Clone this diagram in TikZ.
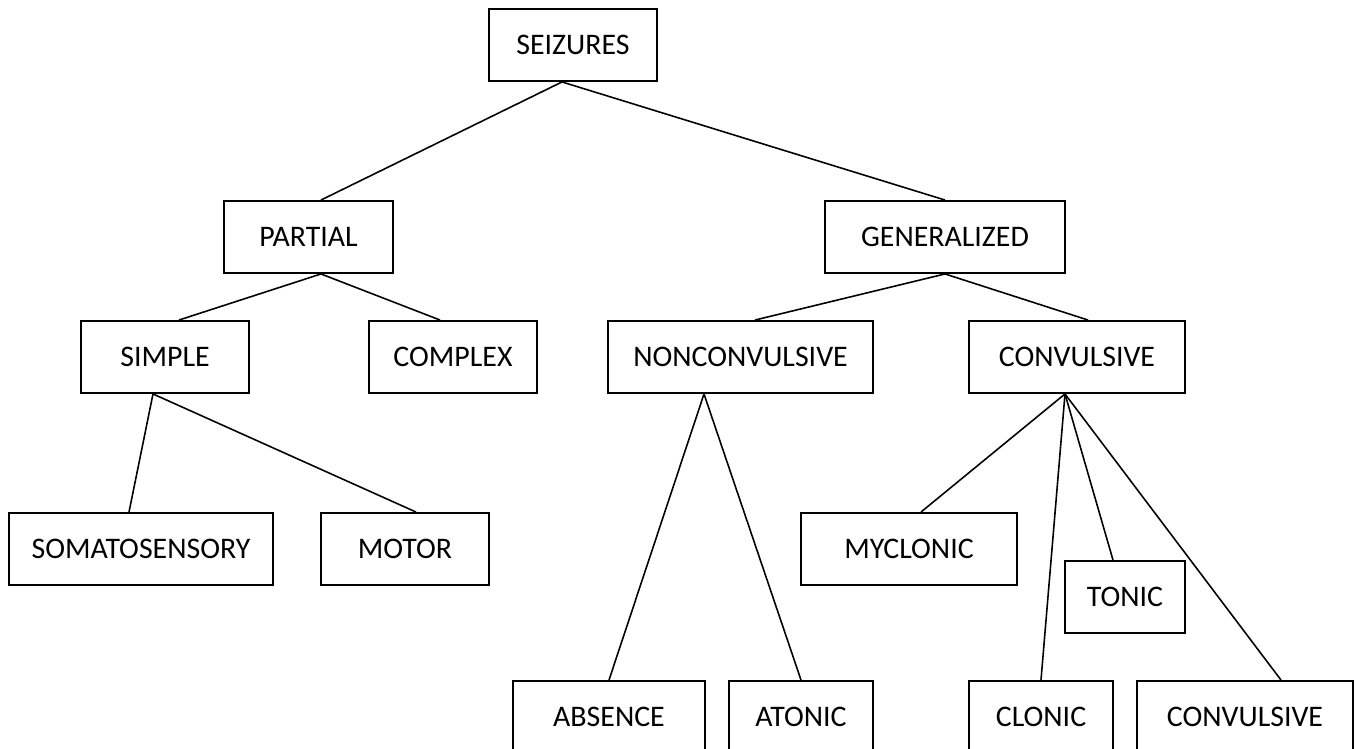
\documentclass[tikz,border=0pt]{standalone}
\usepackage{fontspec}
\setmainfont{Carlito}
\usepackage{tikz}
\usetikzlibrary{calc}

\begin{document}
\begin{tikzpicture}[x=0.02cm,y=-0.02cm,
		box/.style={draw,line width=1.1pt,minimum height=1.44cm,inner sep=0pt,
			font=\fontsize{17}{20}\selectfont},
		link/.style={line width=0.9pt}]
		\useasboundingbox (0,0) rectangle (1357,749);
		\clip (0,0) rectangle (1357,749);
		% top levels
		\node[box,minimum width=3.36cm] (seiz) at (573,45) {SEIZURES};
		\node[box,minimum width=3.38cm] (partial) at (308.5,237) {PARTIAL};
		\node[box,minimum width=4.8cm] (gen) at (945,237) {GENERALIZED};
		\node[box,minimum width=3.36cm] (simple) at (165,357) {SIMPLE};
		\node[box,minimum width=3.36cm] (complex) at (453,357) {COMPLEX};
		\node[box,minimum width=5.3cm] (noncon) at (740.5,357) {NONCONVULSIVE};
		\node[box,minimum width=4.32cm] (conv) at (1077,357) {CONVULSIVE};
		% leaves
		\node[box,minimum width=5.28cm] (somato) at (141,549) {SOMATOSENSORY};
		\node[box,minimum width=3.36cm] (motor) at (405,549) {MOTOR};
		\node[box,minimum width=4.32cm] (myclonic) at (909,549) {MYCLONIC};
		\node[box,minimum width=2.4cm] (tonic) at (1125,597) {TONIC};
		\node[box,minimum width=3.84cm] (absence) at (609,717) {ABSENCE};
		\node[box,minimum width=2.88cm] (atonic) at (801,717) {ATONIC};
		\node[box,minimum width=2.88cm] (clonic) at (1041,717) {CLONIC};
		\node[box,minimum width=4.32cm] (convb) at (1245,717) {CONVULSIVE};
		% links
		\draw[link] ($(seiz.south)+(-11,0)$) -- ($(partial.north)+(12.5,0)$);
		\draw[link] ($(seiz.south)+(-11,0)$) -- (gen.north);
		\draw[link] ($(partial.south)+(12.5,0)$) -- ($(simple.north)+(14,0)$);
		\draw[link] ($(partial.south)+(12.5,0)$) -- ($(complex.north)+(-13,0)$);
		\draw[link] (gen.south) -- ($(noncon.north)+(14.5,0)$);
		\draw[link] (gen.south) -- ($(conv.north)+(11,0)$);
		\draw[link] ($(simple.south)+(-12,0)$) -- ($(somato.north)+(-12,0)$);
		\draw[link] ($(simple.south)+(-12,0)$) -- ($(motor.north)+(11,0)$);
		\draw[link] ($(noncon.south)+(-36.5,0)$) -- (absence.north);
		\draw[link] ($(noncon.south)+(-36.5,0)$) -- (atonic.north);
		\draw[link] ($(conv.south)+(-12,0)$) -- ($(myclonic.north)+(12,0)$);
		\draw[link] ($(conv.south)+(-12,0)$) -- (clonic.north);
		\draw[link] ($(conv.south)+(-12,0)$) -- ($(tonic.north)+(-12,0)$);
		\draw[link] ($(conv.south)+(-12,0)$) -- ($(convb.north)+(36,0)$);
\end{tikzpicture}
\end{document}
